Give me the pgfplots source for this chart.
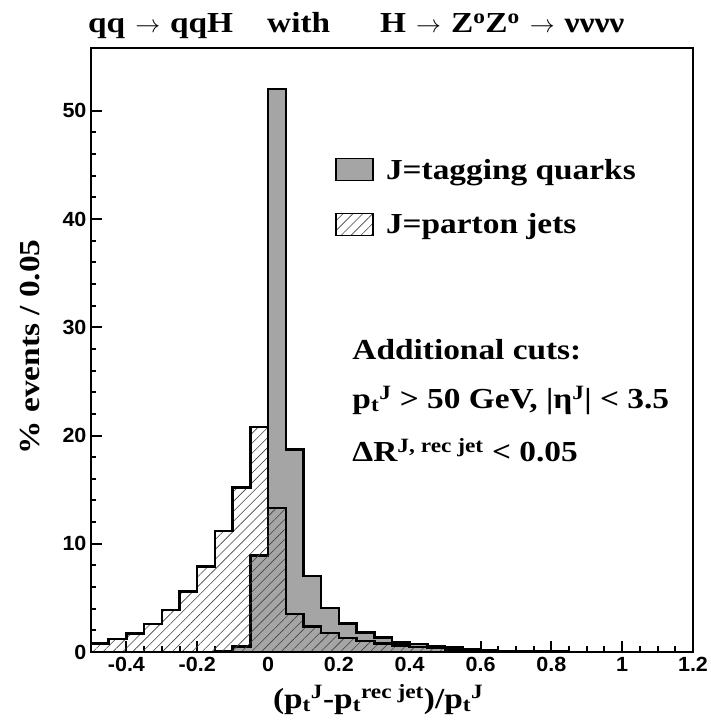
\documentclass[border=0pt]{standalone}
\usepackage{fontspec}
\setmainfont{Liberation Serif}[FakeStretch=1.15]
\newfontfamily\ticksfont{Liberation Sans}[FakeStretch=1.05]
\usepackage{pgfplots}
\pgfplotsset{compat=1.18}
\usetikzlibrary{patterns.meta}
\definecolor{histgray}{RGB}{165,165,165}
\newcommand{\bigtxt}{\bfseries\fontsize{29}{33}\selectfont}
\newcommand{\arr}{\hspace{10pt}$\rightarrow$\hspace{10pt}}
\begin{document}
\begin{tikzpicture}
\begin{axis}[
  scale only axis,
  width=602pt, height=604pt,
  xmin=-0.5, xmax=1.2, ymin=0, ymax=55.8,
  xtick={-0.4,-0.2,0,0.2,0.4,0.6,0.8,1,1.2},
  xticklabels={-0.4,-0.2,0,0.2,0.4,0.6,0.8,1,1.2},
  ytick={0,10,20,30,40,50},
  yticklabels={0,10,20,30,40,50},
  minor x tick num=3, minor y tick num=4,
  tick align=inside, xtick pos=left, ytick pos=left,
  major tick length=11pt, minor tick length=5.5pt,
  every tick/.style={black, line width=2pt},
  axis line style={line width=2.5pt},
  tick label style={font=\ticksfont\bfseries\fontsize{20.5}{20.5}\selectfont},
  xticklabel style={yshift=-2pt},
  yticklabel style={xshift=-1pt},
  clip=false,
  legend style={draw=none, fill=none, inner sep=0pt, at={(rel axis cs:0.405,0.82)}, anchor=north west,
    font=\bigtxt, row sep=29pt, cells={anchor=west}},
  legend cell align=left,
]
\addplot[const plot, fill=histgray, draw=black, line width=2.5pt,
  legend image code/.code={\draw[fill=histgray, draw=black, line width=1.5pt] (0pt,-11pt) rectangle (37pt,11pt); \path (47pt,0pt);}]
 coordinates {(-0.15,0.05) (-0.1,0.5) (-0.05,8.9) (0,52.0) (0.05,18.7) (0.1,7.0) (0.15,4.05) (0.2,2.65) (0.25,1.8) (0.3,1.32) (0.35,0.9) (0.4,0.72) (0.45,0.56) (0.5,0.4) (0.55,0.27) (0.6,0.17) (0.65,0.1) (0.7,0.07) (0.75,0.05) (0.8,0.03) (0.85,0.02) (0.9,0.02) (0.95,0.01) (1.0,0.01) (1.05,0)} \closedcycle;
\addlegendentry{J=tagging quarks}
\addplot[const plot, draw=black, line width=2.5pt, pattern={Lines[angle=45,distance=7pt,line width=0.6pt]}, pattern color=black!75,
  legend image code/.code={\draw[draw=black, line width=1.5pt, pattern={Lines[angle=45,distance=7pt,line width=0.6pt]}, pattern color=black!75] (0pt,-11pt) rectangle (37pt,11pt); \path (47pt,0pt);}]
 coordinates {(-0.5,0.8) (-0.45,1.2) (-0.4,1.7) (-0.35,2.6) (-0.3,3.9) (-0.25,5.6) (-0.2,7.9) (-0.15,11.2) (-0.1,15.2) (-0.05,20.8) (0,13.3) (0.05,3.5) (0.1,2.35) (0.15,1.75) (0.2,1.3) (0.25,1.0) (0.3,0.77) (0.35,0.6) (0.4,0.48) (0.45,0.35) (0.5,0.25) (0.55,0.15) (0.6,0.1) (0.65,0.07) (0.7,0.05) (0.75,0.03) (0.8,0.02) (0.85,0.02) (0.9,0.01) (0.95,0.01) (1.0,0)} \closedcycle;
\addlegendentry{J=parton jets}
\node[anchor=west, font=\bigtxt, inner sep=0pt] at (rel axis cs:0.434,0.5) {Additional cuts:};
\node[anchor=west, font=\bigtxt, inner sep=0pt] at (rel axis cs:0.434,0.417) {p\textsubscript{t}\textsuperscript{J} > 50 GeV, |η\textsuperscript{J}| < 3.5};
\node[anchor=west, font=\bigtxt, inner sep=0pt] at (rel axis cs:0.434,0.334) {ΔR\textsuperscript{J, rec jet} < 0.05};
\node[anchor=base west, font=\bigtxt, inner sep=0pt] at ([yshift=15pt]rel axis cs:-0.005,1) {qq\arr qqH\hspace{34pt}with\hspace{50pt}H\arr Z\textsuperscript{o}Z\textsuperscript{o}\arr νννν};
\node[anchor=base, font=\bigtxt, inner sep=0pt] at ([yshift=-56pt]rel axis cs:0.477,0) {(p\textsubscript{t}\textsuperscript{J}-p\textsubscript{t}\textsuperscript{rec jet})/p\textsubscript{t}\textsuperscript{J}};
\node[rotate=90, font=\bigtxt, inner sep=0pt] at ([xshift=-61pt]rel axis cs:0,0.505) {\% events / 0.05};
\end{axis}
\pgfresetboundingbox
\path ([shift={(-91pt,-73pt)}]current axis.south west) rectangle ([shift={(18pt,48pt)}]current axis.north east);
\end{tikzpicture}
\end{document}
